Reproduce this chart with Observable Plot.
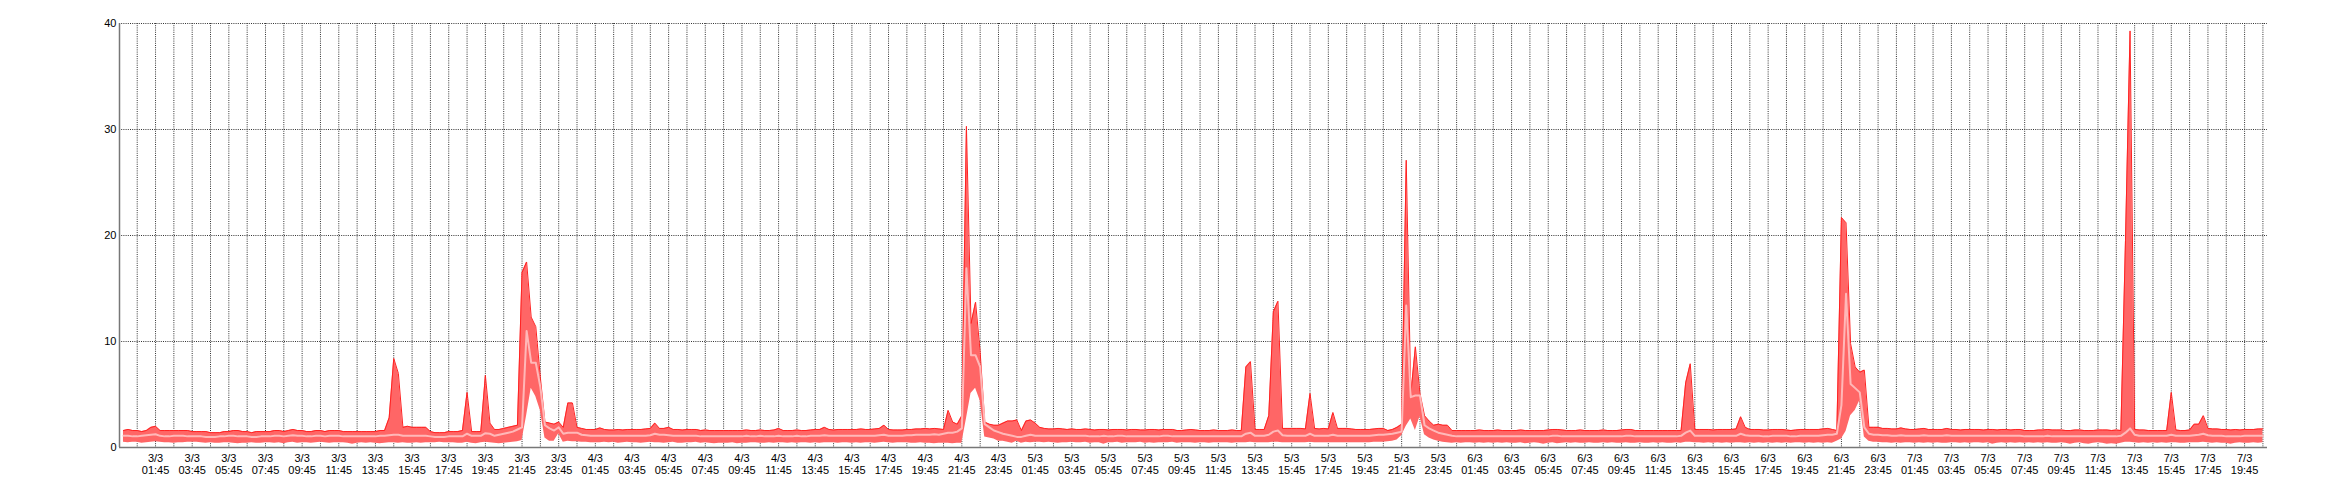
<!DOCTYPE html>
<html><head><meta charset="utf-8">
<script src="https://cdn.jsdelivr.net/npm/d3@7"></script>
<script src="https://cdn.jsdelivr.net/npm/@observablehq/plot@0.6"></script>
<style>body{margin:0;background:#fff} svg{display:block}</style>
</head><body><div id="chart"></div>
<script>
// 15-minute samples from 3/3 00:00 to 7/3 20:45
const startTime = "2023-03-03T00:00:00Z";
const stepMinutes = 15;

const maxVals = [
1.6,1.7,1.6,1.6,1.5,1.6,1.9,2.0,1.6,1.6,1.6,1.6,1.6,1.6,1.6,1.5,
1.5,1.5,1.5,1.4,1.4,1.4,1.5,1.5,1.6,1.6,1.5,1.5,1.4,1.5,1.5,1.5,
1.5,1.6,1.6,1.5,1.6,1.7,1.6,1.6,1.5,1.5,1.6,1.6,1.5,1.6,1.6,1.6,
1.5,1.5,1.5,1.5,1.5,1.5,1.5,1.5,1.6,1.6,2.8,8.4,7.0,1.9,2.0,1.9,
1.9,1.9,1.9,1.5,1.4,1.4,1.4,1.5,1.5,1.5,1.6,5.2,1.5,1.5,1.5,6.8,
2.3,1.7,1.7,1.8,1.9,2.0,2.1,16.5,17.5,12.3,11.4,6.6,2.4,2.3,2.2,2.4,
1.9,4.2,4.2,1.9,1.8,1.7,1.7,1.7,1.85,1.7,1.65,1.65,1.7,1.65,1.7,1.7,
1.7,1.7,1.75,1.8,2.3,1.8,1.8,1.9,1.7,1.7,1.65,1.7,1.7,1.7,1.6,1.65,
1.6,1.6,1.6,1.6,1.6,1.6,1.6,1.6,1.65,1.6,1.6,1.65,1.6,1.6,1.65,1.8,
1.6,1.6,1.6,1.65,1.6,1.6,1.65,1.7,1.7,1.9,1.7,1.65,1.7,1.7,1.7,1.7,
1.7,1.75,1.7,1.7,1.75,1.8,2.1,1.7,1.65,1.65,1.65,1.7,1.7,1.75,1.75,1.8,
1.75,1.8,1.75,1.7,3.5,2.4,2.2,3.0,30.3,11.7,13.7,9.0,2.4,2.2,2.1,2.1,
2.3,2.5,2.5,2.6,1.6,2.5,2.6,2.3,1.9,1.8,1.75,1.75,1.8,1.75,1.7,1.75,
1.7,1.7,1.75,1.7,1.65,1.7,1.7,1.65,1.7,1.7,1.7,1.65,1.7,1.7,1.65,1.65,
1.7,1.7,1.65,1.7,1.7,1.7,1.6,1.6,1.65,1.7,1.65,1.6,1.6,1.6,1.65,1.6,
1.6,1.6,1.65,1.6,1.6,7.6,8.1,1.7,1.7,1.7,3.0,12.8,13.8,1.8,1.8,1.8,
1.8,1.8,1.75,5.1,1.8,1.75,1.8,1.75,3.3,1.8,1.8,1.8,1.75,1.7,1.7,1.7,
1.7,1.75,1.8,1.8,1.6,1.7,1.9,2.2,27.1,5.0,9.5,5.1,3.0,2.5,2.1,2.2,
2.1,2.1,1.6,1.6,1.6,1.6,1.6,1.6,1.65,1.6,1.6,1.6,1.65,1.6,1.6,1.6,
1.6,1.65,1.6,1.6,1.6,1.6,1.6,1.65,1.7,1.7,1.65,1.6,1.6,1.6,1.65,1.6,
1.6,1.6,1.6,1.65,1.6,1.6,1.6,1.65,1.7,1.7,1.6,1.6,1.6,1.6,1.6,1.6,
1.6,1.6,1.6,1.6,1.6,6.1,7.9,1.7,1.7,1.7,1.7,1.65,1.7,1.7,1.7,1.7,
1.75,2.9,1.9,1.7,1.7,1.7,1.65,1.65,1.7,1.7,1.7,1.65,1.6,1.65,1.7,1.7,
1.7,1.7,1.7,1.75,1.8,1.7,1.6,21.7,21.2,9.8,7.6,7.1,7.3,1.9,1.9,1.9,
1.8,1.8,1.75,1.75,1.85,1.75,1.7,1.7,1.75,1.8,1.7,1.7,1.7,1.7,1.8,1.7,
1.7,1.65,1.7,1.7,1.7,1.7,1.65,1.7,1.7,1.65,1.7,1.7,1.65,1.7,1.7,1.6,
1.6,1.6,1.65,1.65,1.7,1.65,1.65,1.65,1.6,1.6,1.65,1.65,1.6,1.6,1.6,1.65,
1.65,1.65,1.6,1.65,1.6,19.5,39.3,1.7,1.65,1.65,1.6,1.6,1.6,1.6,1.6,5.2,
1.65,1.6,1.6,1.65,2.2,2.2,3.0,1.8,1.75,1.75,1.7,1.7,1.65,1.7,1.65,1.7,
1.7,1.7,1.75,1.75
];

const avgVals = [
1.1,1.1,1.05,1.05,1.1,1.15,1.2,1.25,1.1,1.05,1.05,1.1,1.1,1.1,1.05,1.05,
1.05,1.05,1.0,1.0,1.0,1.05,1.05,1.1,1.1,1.05,1.05,1.05,1.0,1.0,1.05,1.05,
1.05,1.1,1.1,1.05,1.1,1.15,1.1,1.1,1.05,1.05,1.1,1.1,1.05,1.1,1.1,1.1,
1.05,1.05,1.05,1.05,1.05,1.05,1.05,1.05,1.1,1.1,1.15,1.2,1.2,1.1,1.1,1.1,
1.1,1.1,1.1,1.05,1.0,1.0,1.0,1.05,1.05,1.05,1.05,1.3,1.1,1.1,1.1,1.35,
1.3,1.1,1.2,1.3,1.4,1.5,1.7,1.9,11.0,8.0,8.0,5.7,2.1,1.8,1.6,1.9,
1.3,1.4,1.4,1.4,1.2,1.15,1.1,1.1,1.1,1.1,1.1,1.1,1.1,1.1,1.1,1.1,
1.1,1.1,1.1,1.15,1.3,1.2,1.2,1.15,1.1,1.1,1.1,1.1,1.1,1.1,1.05,1.05,
1.05,1.05,1.05,1.05,1.05,1.05,1.05,1.05,1.1,1.05,1.05,1.1,1.05,1.05,1.05,1.1,
1.05,1.05,1.05,1.1,1.05,1.05,1.1,1.1,1.1,1.15,1.1,1.1,1.1,1.1,1.1,1.1,
1.1,1.1,1.1,1.1,1.1,1.15,1.2,1.1,1.1,1.1,1.1,1.15,1.15,1.2,1.2,1.2,
1.2,1.25,1.2,1.3,1.4,1.4,1.5,1.8,16.9,8.7,8.7,7.6,2.2,1.9,1.6,1.45,
1.3,1.2,1.1,1.0,1.0,1.1,1.2,1.1,1.1,1.1,1.1,1.1,1.1,1.1,1.1,1.1,
1.1,1.1,1.1,1.05,1.05,1.05,1.1,1.05,1.05,1.1,1.1,1.05,1.05,1.05,1.05,1.05,
1.05,1.05,1.05,1.1,1.1,1.05,1.05,1.05,1.05,1.05,1.05,1.05,1.05,1.05,1.05,1.05,
1.05,1.05,1.05,1.05,1.05,1.3,1.4,1.1,1.1,1.1,1.2,1.5,1.6,1.15,1.1,1.1,
1.1,1.1,1.1,1.3,1.1,1.1,1.1,1.1,1.2,1.1,1.1,1.1,1.1,1.1,1.1,1.1,
1.1,1.15,1.2,1.2,1.25,1.3,1.4,1.5,13.4,4.75,4.9,4.9,2.1,1.8,1.6,1.4,
1.3,1.2,1.1,1.05,1.05,1.05,1.05,1.05,1.05,1.05,1.05,1.05,1.05,1.05,1.05,1.05,
1.05,1.05,1.05,1.05,1.05,1.05,1.05,1.05,1.1,1.1,1.05,1.05,1.05,1.05,1.05,1.05,
1.05,1.05,1.05,1.05,1.05,1.05,1.05,1.05,1.1,1.1,1.05,1.05,1.05,1.05,1.05,1.05,
1.05,1.05,1.05,1.05,1.1,1.4,1.6,1.1,1.1,1.1,1.1,1.1,1.1,1.1,1.1,1.1,
1.1,1.3,1.15,1.1,1.1,1.1,1.05,1.05,1.1,1.1,1.1,1.1,1.05,1.05,1.1,1.1,
1.1,1.1,1.1,1.15,1.2,1.2,1.3,4.0,14.5,6.0,5.6,5.2,1.9,1.3,1.2,1.2,
1.15,1.15,1.1,1.1,1.15,1.1,1.1,1.1,1.1,1.15,1.1,1.1,1.1,1.1,1.15,1.1,
1.1,1.1,1.1,1.1,1.1,1.1,1.1,1.1,1.1,1.1,1.1,1.1,1.1,1.1,1.1,1.05,
1.05,1.05,1.05,1.05,1.1,1.05,1.05,1.05,1.05,1.05,1.05,1.05,1.05,1.05,1.05,1.05,
1.05,1.05,1.05,1.05,1.1,1.4,1.8,1.2,1.1,1.1,1.1,1.1,1.1,1.1,1.1,1.2,
1.1,1.1,1.1,1.1,1.15,1.2,1.3,1.15,1.1,1.1,1.1,1.05,1.05,1.05,1.05,1.1,
1.1,1.1,1.1,1.1
];

const minVals = [
0.5,0.45,0.5,0.5,0.4,0.45,0.5,0.55,0.5,0.45,0.45,0.4,0.45,0.45,0.5,0.5,
0.5,0.45,0.4,0.45,0.4,0.4,0.45,0.45,0.4,0.35,0.4,0.4,0.45,0.4,0.4,0.45,
0.45,0.4,0.45,0.35,0.45,0.5,0.4,0.45,0.45,0.4,0.45,0.5,0.45,0.4,0.45,0.45,
0.45,0.4,0.3,0.4,0.45,0.4,0.45,0.4,0.35,0.4,0.45,0.45,0.4,0.45,0.4,0.4,
0.45,0.4,0.45,0.45,0.45,0.5,0.45,0.45,0.45,0.4,0.4,0.5,0.4,0.35,0.45,0.5,
0.45,0.4,0.35,0.4,0.45,0.5,0.55,0.65,3.0,5.6,4.8,3.5,0.9,0.6,0.6,1.3,
0.5,0.6,0.55,0.55,0.5,0.5,0.45,0.45,0.45,0.5,0.45,0.5,0.4,0.45,0.5,0.45,
0.45,0.4,0.45,0.5,0.45,0.45,0.4,0.45,0.5,0.4,0.4,0.45,0.45,0.5,0.4,0.45,
0.4,0.35,0.4,0.4,0.4,0.45,0.35,0.4,0.4,0.45,0.45,0.4,0.4,0.45,0.4,0.45,
0.45,0.4,0.45,0.4,0.45,0.45,0.4,0.45,0.4,0.45,0.45,0.45,0.4,0.45,0.45,0.4,
0.45,0.4,0.45,0.45,0.4,0.45,0.5,0.45,0.4,0.45,0.45,0.45,0.4,0.4,0.45,0.4,
0.4,0.35,0.4,0.4,0.4,0.35,0.4,0.4,2.7,5.1,5.6,4.4,1.0,0.9,0.8,0.6,
0.6,0.5,0.4,0.6,0.4,0.5,0.45,0.5,0.5,0.45,0.5,0.45,0.4,0.45,0.45,0.5,
0.45,0.45,0.5,0.4,0.45,0.45,0.3,0.45,0.45,0.5,0.4,0.45,0.45,0.45,0.5,0.4,
0.45,0.4,0.45,0.45,0.45,0.5,0.4,0.45,0.45,0.45,0.4,0.45,0.45,0.4,0.45,0.45,
0.45,0.45,0.4,0.45,0.45,0.45,0.5,0.45,0.45,0.45,0.45,0.5,0.5,0.45,0.45,0.45,
0.45,0.45,0.45,0.5,0.45,0.45,0.45,0.45,0.45,0.45,0.45,0.45,0.45,0.45,0.45,0.45,
0.45,0.5,0.5,0.5,0.55,0.6,0.7,1.1,2.0,2.7,1.6,2.9,1.2,0.9,0.7,0.6,
0.5,0.45,0.4,0.45,0.4,0.45,0.45,0.4,0.45,0.4,0.45,0.4,0.45,0.4,0.45,0.4,
0.4,0.45,0.35,0.4,0.45,0.4,0.3,0.4,0.45,0.35,0.4,0.45,0.4,0.45,0.4,0.4,
0.45,0.4,0.4,0.45,0.4,0.45,0.4,0.4,0.45,0.4,0.4,0.45,0.4,0.4,0.45,0.4,
0.45,0.4,0.4,0.45,0.4,0.5,0.5,0.45,0.45,0.4,0.45,0.4,0.45,0.4,0.45,0.4,
0.45,0.45,0.4,0.45,0.4,0.45,0.4,0.45,0.4,0.45,0.4,0.45,0.4,0.45,0.45,0.4,
0.45,0.4,0.45,0.4,0.45,0.4,0.6,0.8,1.5,3.0,3.5,4.4,1.0,0.6,0.5,0.5,
0.45,0.45,0.4,0.45,0.4,0.45,0.45,0.4,0.45,0.4,0.45,0.4,0.45,0.4,0.4,0.45,
0.45,0.4,0.45,0.4,0.45,0.45,0.4,0.45,0.3,0.4,0.45,0.4,0.45,0.4,0.45,0.4,
0.45,0.4,0.45,0.4,0.45,0.4,0.4,0.45,0.4,0.3,0.4,0.45,0.35,0.3,0.4,0.45,
0.4,0.3,0.35,0.3,0.4,0.5,0.5,0.45,0.4,0.45,0.4,0.45,0.4,0.45,0.4,0.45,
0.45,0.4,0.4,0.45,0.45,0.45,0.5,0.45,0.4,0.45,0.4,0.4,0.3,0.4,0.45,0.4,
0.4,0.45,0.4,0.45
];

const yTicks = [0, 10, 20, 30, 40];
const yGrid = [10, 20, 30, 40];
const xDomain = [new Date("2023-03-02T23:47:00Z"), new Date("2023-03-07T21:00:00Z")];

const t0 = new Date(startTime).getTime();
const data = maxVals.map((v, i) => ({
  t: new Date(t0 + i * stepMinutes * 60000),
  max: v, avg: avgVals[i], min: minVals[i]
}));

const hourly = d3.utcHours(new Date("2023-03-03T00:00:00Z"), new Date("2023-03-07T21:00:00Z"))
  .map(d => new Date(+d + 45 * 60000));
const labelTimes = hourly.filter(d => d.getUTCHours() % 2 === 1);

const pad = n => String(n).padStart(2, "0");
const fmt = d => `${d.getUTCDate()}/${d.getUTCMonth() + 1}\n${pad(d.getUTCHours())}:${pad(d.getUTCMinutes())}`;

const chart = Plot.plot({
  width: 2340,
  height: 500,
  marginLeft: 119,
  marginRight: 73,
  marginTop: 23,
  marginBottom: 53,
  style: {fontFamily: "'Liberation Sans', Arial, sans-serif", fontSize: "11px", color: "#000", background: "#fff"},
  x: {type: "utc", domain: xDomain, label: null},
  y: {domain: [0, 40], label: null},
  marks: [
    Plot.ruleX(hourly, {stroke: "#333", strokeDasharray: "1,1.2", strokeWidth: 1}),
    Plot.ruleY(yGrid, {stroke: "#333", strokeDasharray: "1,1.2", strokeWidth: 1}),
    Plot.areaY(data, {x: "t", y1: "min", y2: "max", fill: "#ff6666", fillOpacity: 1}),
    Plot.lineY(data, {x: "t", y: "max", stroke: "#ff2222", strokeWidth: 1}),
    Plot.lineY(data, {x: "t", y: "avg", stroke: "#ffb8b8", strokeWidth: 2}),
    Plot.ruleX([xDomain[0]], {stroke: "#777", strokeWidth: 1.5}),
    Plot.ruleY([0], {stroke: "#777", strokeWidth: 1.5}),
    Plot.axisX(labelTimes, {tickSize: 0, tickPadding: 6, tickFormat: fmt, lineHeight: 1.1, fill: "#000", label: null}),
    Plot.axisY(yTicks, {tickSize: 0, tickPadding: 3, fill: "#000", label: null})
  ]
});
document.getElementById("chart").appendChild(chart);
</script>
</body></html>
